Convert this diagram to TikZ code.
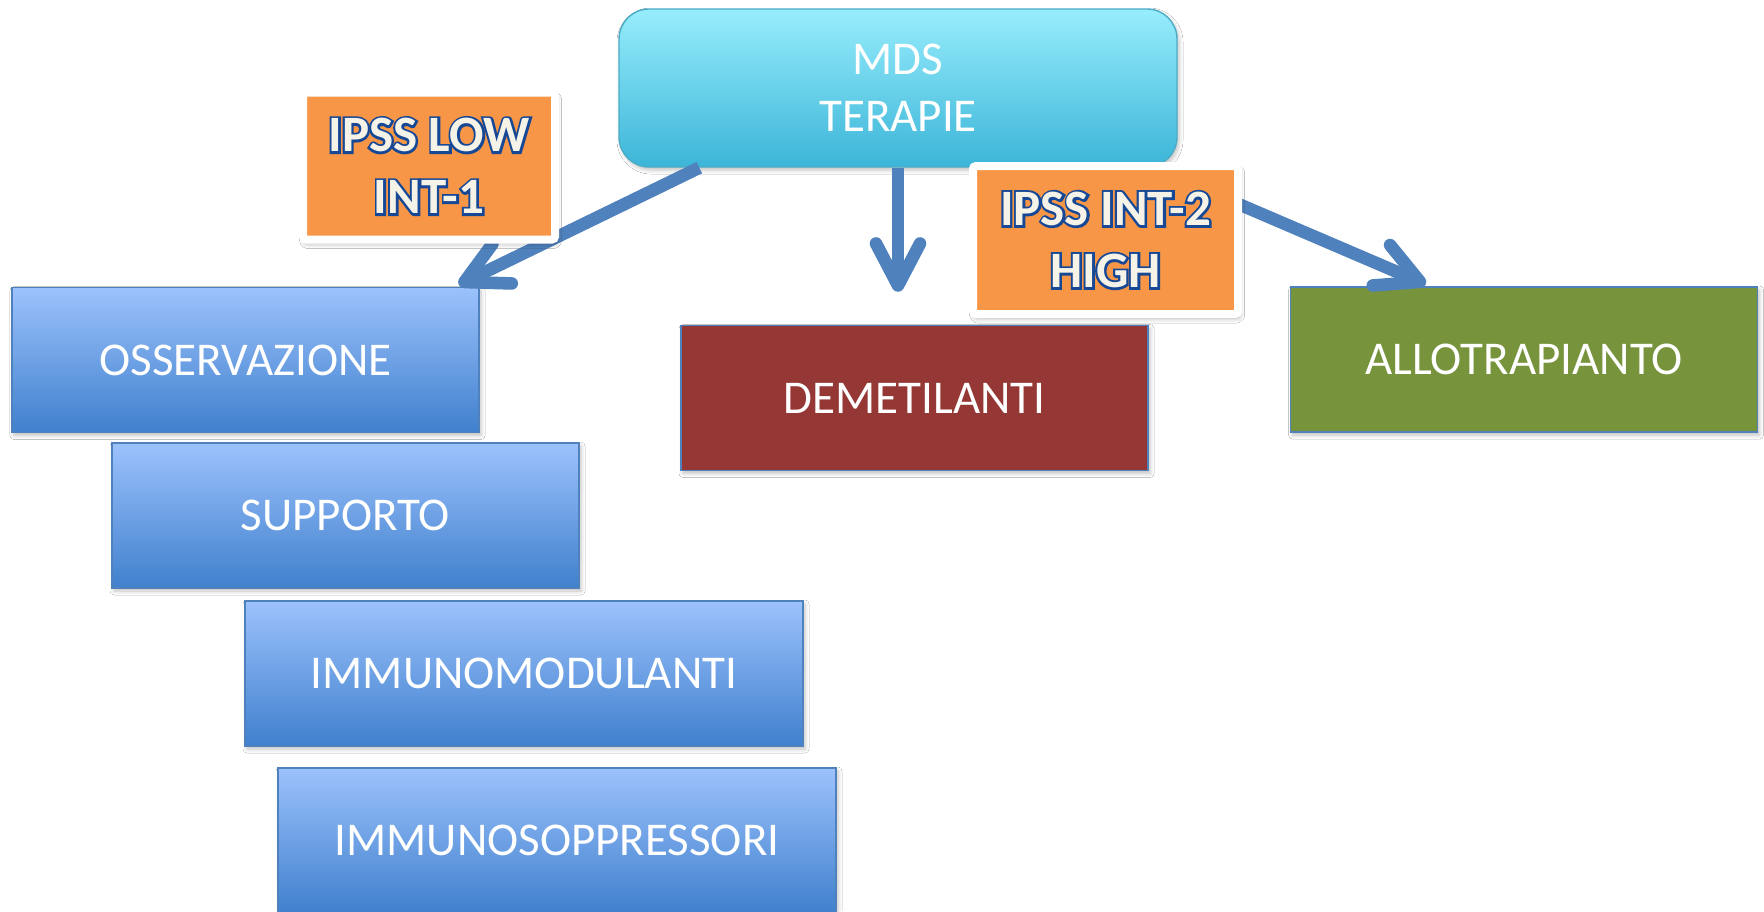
\documentclass[tikz,border=0pt]{standalone}
\usepackage{fontspec}
\setmainfont{Carlito}
\newfontface\labfill{Carlito Bold}
\newfontface\labline{Carlito Bold}[FakeBold=9]
\usetikzlibrary{arrows.meta,calc,shadows.blur}

\definecolor{arrowblue}{RGB}{79,129,189}
\definecolor{boxtop}{RGB}{156,194,252}
\definecolor{boxmid}{RGB}{128,170,238}
\definecolor{boxbot}{RGB}{64,128,205}
\definecolor{cyantop}{RGB}{151,237,252}
\definecolor{cyanmid}{RGB}{110,213,238}
\definecolor{cyanbot}{RGB}{60,181,216}
\definecolor{cyanline}{RGB}{75,172,198}
\definecolor{orangefill}{RGB}{247,150,70}
\definecolor{redfill}{RGB}{149,55,53}
\definecolor{greenfill}{RGB}{119,147,60}
\definecolor{outlineblue}{RGB}{22,72,150}
\definecolor{cream}{RGB}{245,243,232}

% cream lettering over a thickened dark-blue copy of itself
\newcommand{\outlined}[1]{\ooalign{\hfil{\labline\color{outlineblue}#1}\hfil\cr
  \hfil{\labfill\color{cream}#1}\hfil\cr}}

\tikzset{
  softshadow/.style={blur shadow={shadow xshift=1pt, shadow yshift=-1.5pt,
      shadow blur radius=2pt, shadow opacity=25}},
  plainbox/.style={rectangle, inner sep=0pt, draw=arrowblue, line width=0.7pt,
      text=white, font=\fontsize{23.5}{28.5}\selectfont, align=center,
      minimum width=233.5pt, minimum height=72.5pt, softshadow},
  bluebox/.style={plainbox, top color=boxtop, middle color=boxmid, bottom color=boxbot},
  widebox/.style={bluebox, minimum width=279pt},
  rootbox/.style={plainbox, draw=cyanline, rounded corners=15pt,
      top color=cyantop, middle color=cyanmid, bottom color=cyanbot,
      minimum width=279pt, minimum height=79pt},
  riskbox/.style={rectangle, inner sep=0pt, fill=orangefill, draw=white,
      line width=4pt, rounded corners=1.5pt, align=center,
      font=\fontsize{25.5}{31}\selectfont,
      blur shadow={shadow xshift=0.8pt, shadow yshift=-2pt,
      shadow blur radius=2.5pt, shadow opacity=35}},
  arrowline/.style={draw=arrowblue, line width=6.3pt,
      -{Straight Barb[round, length=21pt, width=22pt]}}
}

\begin{document}
\begin{tikzpicture}[x=0.5pt, y=-0.5pt]
  \useasboundingbox (0,0) rectangle (1764,911);
  \clip (0,0) rectangle (1764,911);
  \fill[white] (0,0) rectangle (1764,911);

  % root
  \node[rootbox] (mds) at (898,88) {MDS\\TERAPIE};

  % low-risk column
  \node[bluebox] (oss) at (245.5,360) {OSSERVAZIONE};
  \node[bluebox] (sup) at (345.5,515.5) {SUPPORTO};
  \node[widebox] (immod) at (524,673.5) {IMMUNOMODULANTI};
  \node[widebox] (immsup) at (557,840.5) {IMMUNOSOPPRESSORI};

  % other branches
  \node[plainbox, fill=redfill] (dem) at (914.5,398) {DEMETILANTI};
  \node[plainbox, fill=greenfill] (allo) at (1524,359.5) {ALLOTRAPIANTO};

  % connectors
  \draw[arrowline] ($(mds.south west)+(81,0)$) -- ($(oss.north east)+(-21,-2)$);
  \draw[arrowline] (mds.south) -- ($(mds.south |- dem.north)+(0,-33)$);
  \draw[arrowline] ($(mds.south east)+(-24,0)$) -- ($(allo.north west)+(136,-2)$);

  % risk labels
  \node[riskbox, minimum width=126pt, minimum height=73.5pt] (lowlab) at (429,166)
    {\outlined{IPSS LOW}\\\outlined{INT-1}};
  \node[riskbox, minimum width=132.5pt, minimum height=74pt] (highlab) at (1105.5,240)
    {\outlined{IPSS INT-2}\\\outlined{HIGH}};
\end{tikzpicture}
\end{document}
